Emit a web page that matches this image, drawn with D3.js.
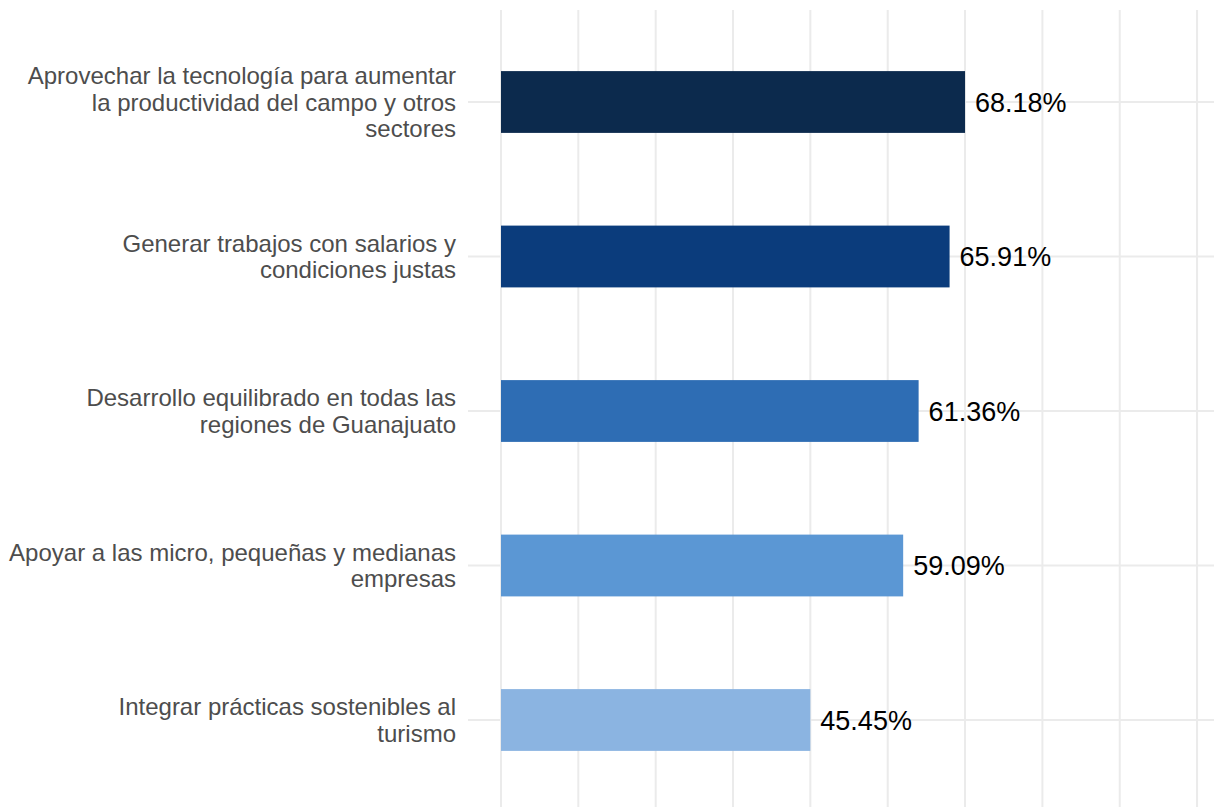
<!DOCTYPE html>
<html><head><meta charset="utf-8">
<script src="https://cdn.jsdelivr.net/npm/d3@7"></script>
<style>body{margin:0;background:#fff;} svg{display:block;}</style>
</head><body>
<svg id="chart" width="1214" height="807"></svg>
<script>
const categories = [
  ["Aprovechar la tecnología para aumentar", "la productividad del campo y otros", "sectores"],
  ["Generar trabajos con salarios y", "condiciones justas"],
  ["Desarrollo equilibrado en todas las", "regiones de Guanajuato"],
  ["Apoyar a las micro, pequeñas y medianas", "empresas"],
  ["Integrar prácticas sostenibles al", "turismo"]
];
const values = [68.18, 65.91, 61.36, 59.09, 45.45];
const valueLabels = ["68.18%", "65.91%", "61.36%", "59.09%", "45.45%"];
const colors = ["#0c2a4d", "#0b3c7c", "#2e6db4", "#5b97d4", "#8bb4e1"];
const gridTicks = [0, 11.36, 22.73, 34.09, 45.45, 56.82, 68.18, 79.55, 90.91, 102.27];

const svg = d3.select("#chart");
const x = d3.scaleLinear().domain([0, 100]).range([501, 1181.6]);
const y = d3.scalePoint().domain(d3.range(categories.length)).range([24.75, 797.25]).padding(0.5);
const barH = y.step() * 0.4;
const grid = "#ebebeb";

svg.append("g").selectAll("line").data(gridTicks).join("line")
  .attr("x1", d => x(d)).attr("x2", d => x(d))
  .attr("y1", 10).attr("y2", 807)
  .attr("stroke", grid).attr("stroke-width", 2);
svg.append("g").selectAll("line").data(d3.range(categories.length)).join("line")
  .attr("x1", 468).attr("x2", 1214)
  .attr("y1", d => y(d)).attr("y2", d => y(d))
  .attr("stroke", grid).attr("stroke-width", 2);

svg.append("g").selectAll("rect").data(values).join("rect")
  .attr("x", x(0)).attr("width", d => x(d) - x(0))
  .attr("y", (d, i) => y(i) - barH / 2).attr("height", barH)
  .attr("fill", (d, i) => colors[i]);

svg.append("g").selectAll("text").data(values).join("text")
  .attr("x", d => x(d) + 10).attr("y", (d, i) => y(i))
  .attr("dy", "0.36em")
  .attr("font-family", "Liberation Sans, Arial, sans-serif")
  .attr("font-size", 27).attr("fill", "#000")
  .text((d, i) => valueLabels[i]);

const lh = 26.5;
categories.forEach((lines, i) => {
  const t = svg.append("text")
    .attr("text-anchor", "end")
    .attr("font-family", "Liberation Sans, Arial, sans-serif")
    .attr("font-size", 24).attr("fill", "#4d4d4d");
  const y0 = y(i) - (lines.length - 1) * lh / 2;
  lines.forEach((l, j) => {
    t.append("tspan").attr("x", 456).attr("y", y0 + j * lh).attr("dy", "0.36em").text(l);
  });
});
</script>
</body></html>
